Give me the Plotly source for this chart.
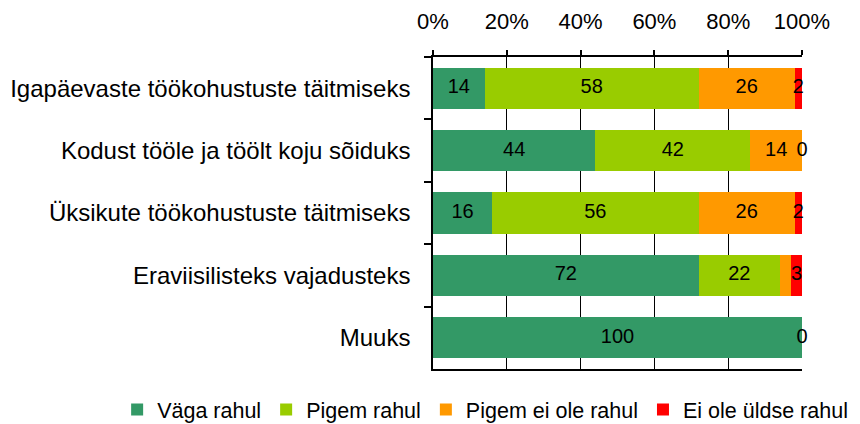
import plotly.graph_objects as go

categories = [
    "Igapäevaste töökohustuste täitmiseks",
    "Kodust tööle ja töölt koju sõiduks",
    "Üksikute töökohustuste täitmiseks",
    "Eraviisilisteks vajadusteks",
    "Muuks",
]
series_names = ["Väga rahul", "Pigem rahul", "Pigem ei ole rahul", "Ei ole üldse rahul"]
vaga_rahul = [14, 44, 16, 72, 100]
pigem_rahul = [58, 42, 56, 22, 0]
pigem_ei_ole = [26, 14, 26, 3, 0]
ei_ole_uldse = [2, 0, 2, 3, 0]
# labels shown on the bars ("" = not shown in the reference)
lab_vaga = ["14", "44", "16", "72", "100"]
lab_pigem = ["58", "42", "56", "22", ""]
lab_pigem_ei = ["26", "14", "26", "", ""]
lab_ei = ["2", "0", "2", "3", "0"]
colors = ["#339966", "#99CC00", "#FF9900", "#FF0000"]
tick_vals = [0, 20, 40, 60, 80, 100]

FONT = "Liberation Sans, Arial, sans-serif"
series = [vaga_rahul, pigem_rahul, pigem_ei_ole, ei_ole_uldse]
labels = [lab_vaga, lab_pigem, lab_pigem_ei, lab_ei]

fig = go.Figure()
for name, vals, col in zip(series_names, series, colors):
    fig.add_trace(go.Bar(
        y=categories, x=vals, name=name, orientation="h",
        marker=dict(color=col, line=dict(width=0)),
        hoverinfo="x+name",
    ))

# centred value labels for each segment
cum = [0] * len(categories)
for vals, labs in zip(series, labels):
    centers = [c + v / 2 for c, v in zip(cum, vals)]
    fig.add_trace(go.Scatter(
        y=categories, x=centers, text=labs, mode="text",
        textposition="middle center",
        textfont=dict(family=FONT, size=20, color="black"),
        showlegend=False, hoverinfo="skip", cliponaxis=False,
    ))
    cum = [c + v for c, v in zip(cum, vals)]

# page has an 8px body margin, so the figure is 852x416 drawn at (8, 8)
fig.update_layout(
    width=852, height=416,
    margin=dict(l=425, r=58, t=49, b=55, autoexpand=False),
    barmode="stack", bargap=0.34,
    plot_bgcolor="white", paper_bgcolor="white",
    font=dict(family=FONT, color="black"),
    xaxis=dict(
        side="top", range=[0, 100], tickvals=tick_vals,
        ticktext=[f"{v}%" for v in tick_vals],
        showgrid=True, gridcolor="black", gridwidth=1,
        zeroline=False, showline=True, mirror=True,
        linecolor="black", linewidth=1.5,
        ticks="outside", ticklen=5, tickcolor="black", tickwidth=1.5,
        tickfont=dict(family=FONT, size=22, color="black"),
        ticklabelstandoff=12, automargin=False,
    ),
    yaxis=dict(
        type="category", autorange="reversed",
        showgrid=False, zeroline=False, showline=True,
        linecolor="black", linewidth=1.5,
        ticks="outside", tickson="boundaries", ticklen=7,
        tickcolor="black", tickwidth=1.5,
        tickfont=dict(family=FONT, size=24, color="black"),
        ticklabelstandoff=16, automargin=False,
    ),
    legend=dict(
        orientation="h", xref="paper", yref="paper",
        x=-0.856, xanchor="left", y=-0.13, yanchor="middle",
        font=dict(family=FONT, size=21.5, color="black"),
        traceorder="normal",
    ),
)

fig.write_html("out.html")
